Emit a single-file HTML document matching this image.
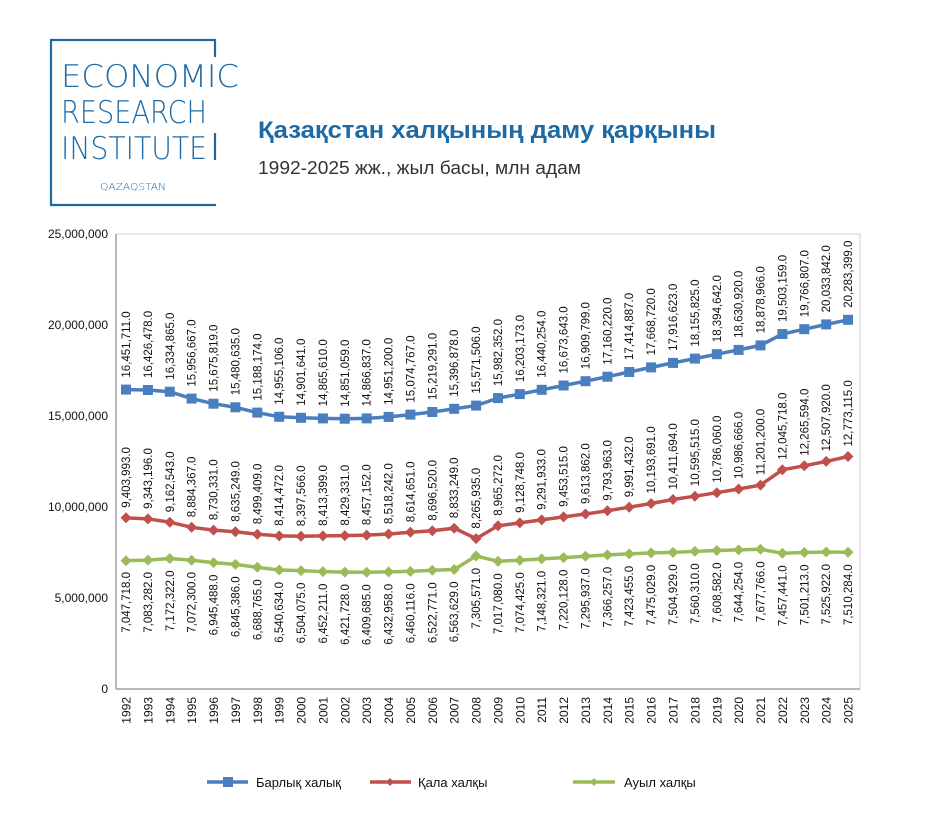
<!DOCTYPE html>
<html><head><meta charset="utf-8"><style>
body{margin:0;background:#fff;}
svg{display:block;font-family:"Liberation Sans",sans-serif;}
.l{font-size:11.5px;fill:#111;}
</style></head><body>
<svg width="925" height="837" viewBox="0 0 925 837" xmlns="http://www.w3.org/2000/svg">
<defs>
<marker id="dr" markerWidth="12" markerHeight="12" refX="6" refY="6" markerUnits="userSpaceOnUse"><path d="M6 0.5 L11.5 6 L6 11.5 L0.5 6Z" fill="#c0504d"/></marker>
<marker id="dg" markerWidth="12" markerHeight="12" refX="6" refY="6" markerUnits="userSpaceOnUse"><path d="M6 0.5 L11.5 6 L6 11.5 L0.5 6Z" fill="#9bbb59"/></marker>
</defs>
<!-- logo -->
<g stroke="#1d6aa5" stroke-width="2.2" fill="none">
<line x1="51" y1="40" x2="51" y2="205"/>
<line x1="50" y1="40" x2="216" y2="40"/>
<line x1="50" y1="205" x2="216" y2="205"/>
<line x1="215" y1="40" x2="215" y2="57"/>
<line x1="215" y1="133" x2="215" y2="160"/>
</g>
<g fill="#1d6aa5" font-family="DejaVu Sans, Liberation Sans, sans-serif" font-weight="200">
<text x="61" y="87" font-size="31" textLength="178" lengthAdjust="spacingAndGlyphs">ECONOMIC</text>
<text x="61" y="123" font-size="31" textLength="146" lengthAdjust="spacingAndGlyphs">RESEARCH</text>
<text x="61" y="159" font-size="31" textLength="146" lengthAdjust="spacingAndGlyphs">INSTITUTE</text>
<text x="100" y="190" font-size="10" textLength="66" lengthAdjust="spacingAndGlyphs">QAZAQSTAN</text>
</g>
<text x="258" y="138" font-size="24" font-weight="bold" fill="#1d6aa5" textLength="458" lengthAdjust="spacingAndGlyphs">Қазақстан халқының даму қарқыны</text>
<text x="258" y="174" font-size="18" fill="#333" textLength="323" lengthAdjust="spacingAndGlyphs">1992-2025 жж., жыл басы, млн адам</text>
<!-- plot frame -->
<rect x="116" y="234" width="744" height="455" fill="none" stroke="#cfcfcf" stroke-width="1"/>
<line x1="116" y1="234" x2="116" y2="689" stroke="#a0a0a0" stroke-width="1.5"/>
<line x1="116" y1="689" x2="860" y2="689" stroke="#a0a0a0" stroke-width="1.5"/>
<g font-size="12" fill="#111" text-anchor="end">
<text x="108" y="238">25,000,000</text>
<text x="108" y="329">20,000,000</text>
<text x="108" y="420">15,000,000</text>
<text x="108" y="511">10,000,000</text>
<text x="108" y="602">5,000,000</text>
<text x="108" y="693">0</text>
</g>
<!-- series -->
<polyline fill="none" stroke="#4a7ebf" stroke-width="3.5" points="126,389.6 147.9,390 169.8,391.7 191.6,398.6 213.5,403.7 235.4,407.3 257.3,412.6 279.2,416.8 301,417.8 322.9,418.4 344.8,418.7 366.7,418.4 388.6,416.9 410.4,414.6 432.3,412 454.2,408.8 476.1,405.6 498,398.1 519.8,394.1 541.7,389.8 563.6,385.5 585.5,381.2 607.4,376.7 629.2,372 651.1,367.4 673,362.9 694.9,358.6 716.8,354.2 738.6,349.9 760.5,345.4 782.4,334 804.3,329.2 826.2,324.4 848,319.8"/>
<polyline fill="none" stroke="#c0504d" stroke-width="3.5" marker-start="url(#dr)" marker-mid="url(#dr)" marker-end="url(#dr)" points="126,517.8 147.9,518.9 169.8,522.2 191.6,527.3 213.5,530.1 235.4,531.8 257.3,534.3 279.2,535.9 301,536.2 322.9,535.9 344.8,535.6 366.7,535.1 388.6,534 410.4,532.2 432.3,530.7 454.2,528.2 476.1,538.6 498,525.8 519.8,522.9 541.7,519.9 563.6,516.9 585.5,514 607.4,510.8 629.2,507.2 651.1,503.5 673,499.5 694.9,496.2 716.8,492.7 738.6,489 760.5,485.1 782.4,469.8 804.3,465.8 826.2,461.4 848,456.5"/>
<polyline fill="none" stroke="#9bbb59" stroke-width="3.5" marker-start="url(#dg)" marker-mid="url(#dg)" marker-end="url(#dg)" points="126,560.7 147.9,560.1 169.8,558.5 191.6,560.3 213.5,562.6 235.4,564.4 257.3,567.3 279.2,570 301,570.6 322.9,571.6 344.8,572.1 366.7,572.3 388.6,571.9 410.4,571.4 432.3,570.3 454.2,569.5 476.1,556 498,561.3 519.8,560.2 541.7,558.9 563.6,557.6 585.5,556.2 607.4,554.9 629.2,553.9 651.1,552.9 673,552.4 694.9,551.4 716.8,550.5 738.6,549.9 760.5,549.3 782.4,553.3 804.3,552.5 826.2,552 848,552.3"/>
<g fill="#4a7ebf">
<rect x="121" y="384.6" width="10" height="10"/><rect x="142.9" y="385" width="10" height="10"/><rect x="164.8" y="386.7" width="10" height="10"/><rect x="186.6" y="393.6" width="10" height="10"/><rect x="208.5" y="398.7" width="10" height="10"/><rect x="230.4" y="402.3" width="10" height="10"/><rect x="252.3" y="407.6" width="10" height="10"/><rect x="274.2" y="411.8" width="10" height="10"/><rect x="296" y="412.8" width="10" height="10"/><rect x="317.9" y="413.4" width="10" height="10"/><rect x="339.8" y="413.7" width="10" height="10"/><rect x="361.7" y="413.4" width="10" height="10"/><rect x="383.6" y="411.9" width="10" height="10"/><rect x="405.4" y="409.6" width="10" height="10"/><rect x="427.3" y="407" width="10" height="10"/><rect x="449.2" y="403.8" width="10" height="10"/><rect x="471.1" y="400.6" width="10" height="10"/><rect x="493" y="393.1" width="10" height="10"/><rect x="514.8" y="389.1" width="10" height="10"/><rect x="536.7" y="384.8" width="10" height="10"/><rect x="558.6" y="380.5" width="10" height="10"/><rect x="580.5" y="376.2" width="10" height="10"/><rect x="602.4" y="371.7" width="10" height="10"/><rect x="624.2" y="367" width="10" height="10"/><rect x="646.1" y="362.4" width="10" height="10"/><rect x="668" y="357.9" width="10" height="10"/><rect x="689.9" y="353.6" width="10" height="10"/><rect x="711.8" y="349.2" width="10" height="10"/><rect x="733.6" y="344.9" width="10" height="10"/><rect x="755.5" y="340.4" width="10" height="10"/><rect x="777.4" y="329" width="10" height="10"/><rect x="799.3" y="324.2" width="10" height="10"/><rect x="821.2" y="319.4" width="10" height="10"/><rect x="843" y="314.8" width="10" height="10"/>
</g>
<!-- blue labels -->
<g class="l">
<text transform="translate(130,377.6) rotate(-90)">16,451,711.0</text>
<text transform="translate(151.9,378) rotate(-90)">16,426,478.0</text>
<text transform="translate(173.8,379.7) rotate(-90)">16,334,865.0</text>
<text transform="translate(195.6,386.6) rotate(-90)">15,956,667.0</text>
<text transform="translate(217.5,391.7) rotate(-90)">15,675,819.0</text>
<text transform="translate(239.4,395.3) rotate(-90)">15,480,635.0</text>
<text transform="translate(261.3,400.6) rotate(-90)">15,188,174.0</text>
<text transform="translate(283.2,404.8) rotate(-90)">14,955,106.0</text>
<text transform="translate(305,405.8) rotate(-90)">14,901,641.0</text>
<text transform="translate(326.9,406.4) rotate(-90)">14,865,610.0</text>
<text transform="translate(348.8,406.7) rotate(-90)">14,851,059.0</text>
<text transform="translate(370.7,406.4) rotate(-90)">14,866,837.0</text>
<text transform="translate(392.6,404.9) rotate(-90)">14,951,200.0</text>
<text transform="translate(414.4,402.6) rotate(-90)">15,074,767.0</text>
<text transform="translate(436.3,400) rotate(-90)">15,219,291.0</text>
<text transform="translate(458.2,396.8) rotate(-90)">15,396,878.0</text>
<text transform="translate(480.1,393.6) rotate(-90)">15,571,506.0</text>
<text transform="translate(502,386.1) rotate(-90)">15,982,352.0</text>
<text transform="translate(523.8,382.1) rotate(-90)">16,203,173.0</text>
<text transform="translate(545.7,377.8) rotate(-90)">16,440,254.0</text>
<text transform="translate(567.6,373.5) rotate(-90)">16,673,643.0</text>
<text transform="translate(589.5,369.2) rotate(-90)">16,909,799.0</text>
<text transform="translate(611.4,364.7) rotate(-90)">17,160,220.0</text>
<text transform="translate(633.2,360) rotate(-90)">17,414,887.0</text>
<text transform="translate(655.1,355.4) rotate(-90)">17,668,720.0</text>
<text transform="translate(677,350.9) rotate(-90)">17,916,623.0</text>
<text transform="translate(698.9,346.6) rotate(-90)">18,155,825.0</text>
<text transform="translate(720.8,342.2) rotate(-90)">18,394,642.0</text>
<text transform="translate(742.6,337.9) rotate(-90)">18,630,920.0</text>
<text transform="translate(764.5,333.4) rotate(-90)">18,878,966.0</text>
<text transform="translate(786.4,322) rotate(-90)">19,503,159.0</text>
<text transform="translate(808.3,317.2) rotate(-90)">19,766,807.0</text>
<text transform="translate(830.2,312.4) rotate(-90)">20,033,842.0</text>
<text transform="translate(852,307.8) rotate(-90)">20,283,399.0</text>
</g>
<!-- red labels -->
<g class="l">
<text transform="translate(130,507.8) rotate(-90)">9,403,993.0</text>
<text transform="translate(151.9,508.9) rotate(-90)">9,343,196.0</text>
<text transform="translate(173.8,512.2) rotate(-90)">9,162,543.0</text>
<text transform="translate(195.6,517.3) rotate(-90)">8,884,367.0</text>
<text transform="translate(217.5,520.1) rotate(-90)">8,730,331.0</text>
<text transform="translate(239.4,521.8) rotate(-90)">8,635,249.0</text>
<text transform="translate(261.3,524.3) rotate(-90)">8,499,409.0</text>
<text transform="translate(283.2,525.9) rotate(-90)">8,414,472.0</text>
<text transform="translate(305,526.2) rotate(-90)">8,397,566.0</text>
<text transform="translate(326.9,525.9) rotate(-90)">8,413,399.0</text>
<text transform="translate(348.8,525.6) rotate(-90)">8,429,331.0</text>
<text transform="translate(370.7,525.1) rotate(-90)">8,457,152.0</text>
<text transform="translate(392.6,524) rotate(-90)">8,518,242.0</text>
<text transform="translate(414.4,522.2) rotate(-90)">8,614,651.0</text>
<text transform="translate(436.3,520.7) rotate(-90)">8,696,520.0</text>
<text transform="translate(458.2,518.2) rotate(-90)">8,833,249.0</text>
<text transform="translate(480.1,528.6) rotate(-90)">8,265,935.0</text>
<text transform="translate(502,515.8) rotate(-90)">8,965,272.0</text>
<text transform="translate(523.8,512.9) rotate(-90)">9,128,748.0</text>
<text transform="translate(545.7,509.9) rotate(-90)">9,291,933.0</text>
<text transform="translate(567.6,506.9) rotate(-90)">9,453,515.0</text>
<text transform="translate(589.5,504) rotate(-90)">9,613,862.0</text>
<text transform="translate(611.4,500.8) rotate(-90)">9,793,963.0</text>
<text transform="translate(633.2,497.2) rotate(-90)">9,991,432.0</text>
<text transform="translate(655.1,493.5) rotate(-90)">10,193,691.0</text>
<text transform="translate(677,489.5) rotate(-90)">10,411,694.0</text>
<text transform="translate(698.9,486.2) rotate(-90)">10,595,515.0</text>
<text transform="translate(720.8,482.7) rotate(-90)">10,786,060.0</text>
<text transform="translate(742.6,479) rotate(-90)">10,986,666.0</text>
<text transform="translate(764.5,475.1) rotate(-90)">11,201,200.0</text>
<text transform="translate(786.4,459.8) rotate(-90)">12,045,718.0</text>
<text transform="translate(808.3,455.8) rotate(-90)">12,265,594.0</text>
<text transform="translate(830.2,451.4) rotate(-90)">12,507,920.0</text>
<text transform="translate(852,446.5) rotate(-90)">12,773,115.0</text>
</g>
<!-- green labels -->
<g class="l" text-anchor="end">
<text transform="translate(130,572) rotate(-90)">7,047,718.0</text>
<text transform="translate(151.9,572) rotate(-90)">7,083,282.0</text>
<text transform="translate(173.8,570.5) rotate(-90)">7,172,322.0</text>
<text transform="translate(195.6,572) rotate(-90)">7,072,300.0</text>
<text transform="translate(217.5,574.6) rotate(-90)">6,945,488.0</text>
<text transform="translate(239.4,576.4) rotate(-90)">6,845,386.0</text>
<text transform="translate(261.3,579.3) rotate(-90)">6,688,765.0</text>
<text transform="translate(283.2,582) rotate(-90)">6,540,634.0</text>
<text transform="translate(305,582.6) rotate(-90)">6,504,075.0</text>
<text transform="translate(326.9,583.6) rotate(-90)">6,452,211.0</text>
<text transform="translate(348.8,584.1) rotate(-90)">6,421,728.0</text>
<text transform="translate(370.7,584.3) rotate(-90)">6,409,685.0</text>
<text transform="translate(392.6,583.9) rotate(-90)">6,432,958.0</text>
<text transform="translate(414.4,583.4) rotate(-90)">6,460,116.0</text>
<text transform="translate(436.3,582.3) rotate(-90)">6,522,771.0</text>
<text transform="translate(458.2,581.5) rotate(-90)">6,563,629.0</text>
<text transform="translate(480.1,568) rotate(-90)">7,305,571.0</text>
<text transform="translate(502,573.3) rotate(-90)">7,017,080.0</text>
<text transform="translate(523.8,572.2) rotate(-90)">7,074,425.0</text>
<text transform="translate(545.7,570.9) rotate(-90)">7,148,321.0</text>
<text transform="translate(567.6,569.6) rotate(-90)">7,220,128.0</text>
<text transform="translate(589.5,568.2) rotate(-90)">7,295,937.0</text>
<text transform="translate(611.4,566.9) rotate(-90)">7,366,257.0</text>
<text transform="translate(633.2,565.9) rotate(-90)">7,423,455.0</text>
<text transform="translate(655.1,564.9) rotate(-90)">7,475,029.0</text>
<text transform="translate(677,564.4) rotate(-90)">7,504,929.0</text>
<text transform="translate(698.9,563.4) rotate(-90)">7,560,310.0</text>
<text transform="translate(720.8,562.5) rotate(-90)">7,608,582.0</text>
<text transform="translate(742.6,561.9) rotate(-90)">7,644,254.0</text>
<text transform="translate(764.5,561.3) rotate(-90)">7,677,766.0</text>
<text transform="translate(786.4,565.3) rotate(-90)">7,457,441.0</text>
<text transform="translate(808.3,564.5) rotate(-90)">7,501,213.0</text>
<text transform="translate(830.2,564) rotate(-90)">7,525,922.0</text>
<text transform="translate(852,564.3) rotate(-90)">7,510,284.0</text>
</g>
<!-- years -->
<g font-size="12" fill="#111" text-anchor="end">
<text transform="translate(130.5,697) rotate(-90)">1992</text>
<text transform="translate(152.4,697) rotate(-90)">1993</text>
<text transform="translate(174.3,697) rotate(-90)">1994</text>
<text transform="translate(196.1,697) rotate(-90)">1995</text>
<text transform="translate(218,697) rotate(-90)">1996</text>
<text transform="translate(239.9,697) rotate(-90)">1997</text>
<text transform="translate(261.8,697) rotate(-90)">1998</text>
<text transform="translate(283.7,697) rotate(-90)">1999</text>
<text transform="translate(305.5,697) rotate(-90)">2000</text>
<text transform="translate(327.4,697) rotate(-90)">2001</text>
<text transform="translate(349.3,697) rotate(-90)">2002</text>
<text transform="translate(371.2,697) rotate(-90)">2003</text>
<text transform="translate(393.1,697) rotate(-90)">2004</text>
<text transform="translate(414.9,697) rotate(-90)">2005</text>
<text transform="translate(436.8,697) rotate(-90)">2006</text>
<text transform="translate(458.7,697) rotate(-90)">2007</text>
<text transform="translate(480.6,697) rotate(-90)">2008</text>
<text transform="translate(502.5,697) rotate(-90)">2009</text>
<text transform="translate(524.3,697) rotate(-90)">2010</text>
<text transform="translate(546.2,697) rotate(-90)">2011</text>
<text transform="translate(568.1,697) rotate(-90)">2012</text>
<text transform="translate(590,697) rotate(-90)">2013</text>
<text transform="translate(611.9,697) rotate(-90)">2014</text>
<text transform="translate(633.7,697) rotate(-90)">2015</text>
<text transform="translate(655.6,697) rotate(-90)">2016</text>
<text transform="translate(677.5,697) rotate(-90)">2017</text>
<text transform="translate(699.4,697) rotate(-90)">2018</text>
<text transform="translate(721.3,697) rotate(-90)">2019</text>
<text transform="translate(743.1,697) rotate(-90)">2020</text>
<text transform="translate(765,697) rotate(-90)">2021</text>
<text transform="translate(786.9,697) rotate(-90)">2022</text>
<text transform="translate(808.8,697) rotate(-90)">2023</text>
<text transform="translate(830.7,697) rotate(-90)">2024</text>
<text transform="translate(852.5,697) rotate(-90)">2025</text>
</g>
<!-- legend -->
<line x1="207" y1="782" x2="248" y2="782" stroke="#4a7ebf" stroke-width="3.5"/>
<rect x="223" y="777" width="10" height="10" fill="#4a7ebf"/>
<text x="256" y="787" font-size="13" fill="#111">Барлық халық</text>
<line x1="370" y1="782" x2="411" y2="782" stroke="#c0504d" stroke-width="3.5"/>
<path d="M390 778 L394 782 L390 786 L386 782Z" fill="#c0504d"/>
<text x="418" y="787" font-size="13" fill="#111">Қала халқы</text>
<line x1="573" y1="782" x2="615" y2="782" stroke="#9bbb59" stroke-width="3.5"/>
<path d="M594 778 L598 782 L594 786 L590 782Z" fill="#9bbb59"/>
<text x="624" y="787" font-size="13" fill="#111">Ауыл халқы</text>
</svg>
</body></html>
